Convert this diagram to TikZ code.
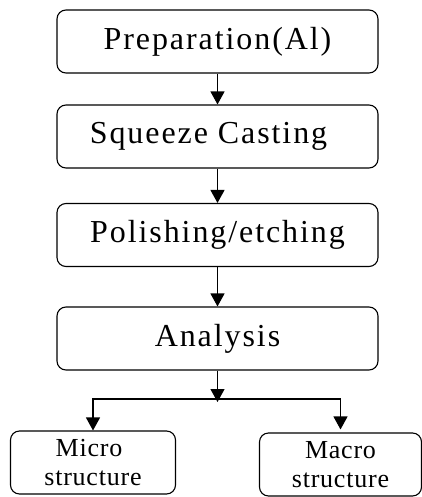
\documentclass[tikz,border=0pt]{standalone}
\usepackage{fontspec}
\setmainfont{Liberation Serif}
\usetikzlibrary{arrows.meta}

\begin{document}
\begin{tikzpicture}[
        x=1pt, y=1pt,
        >={Triangle[length=13pt,width=14pt]},
        every node/.style={font=\fontsize{32}{38}\selectfont\addfontfeature{LetterSpace=6}},
        block/.style={draw, rectangle, rounded corners=9pt, minimum width=321pt, minimum height=63pt, align=center, line width=1.1pt},
        leaf/.style={draw, rectangle, rounded corners=9pt, minimum width=165pt, minimum height=63pt, align=center, line width=1.1pt, font=\fontsize{26}{29}\selectfont\addfontfeature{LetterSpace=3}}
    ]
        \useasboundingbox (0,0) rectangle (422,-497);

        % Nodes
        \node (prep) [block] at (217.5,-41.5) {Preparation(Al)};
        \node (squeeze) [block] at (217.5,-136.5) {\hspace*{-18pt}Squeeze Casting};
        \node (polish) [block] at (217.5,-235) {Polishing/etching};
        \node (analysis) [block] at (217.5,-338.5) {Analysis};
        \node (micro) [leaf] at (93,-462.5) {\hspace*{-8pt}Micro\\structure};
        \node (macro) [leaf, minimum width=162pt] at (340.5,-464.5) {Macro\\structure};
        \coordinate (split) at (217.5,-399);

        % Arrows
        \draw [->, line width=1.2pt] (prep) -- (squeeze);
        \draw [->, line width=1.2pt] (squeeze) -- (polish);
        \draw [->, line width=1.2pt] (polish) -- (analysis);
        \draw [->, line width=1.2pt, shorten >=-3pt] (analysis) -- (split);
        \draw [->, line width=1.2pt] (split) -| (micro);
        \draw [->, line width=1.2pt, shorten >=3pt] (split) -| (macro);
    \end{tikzpicture}
\end{document}
